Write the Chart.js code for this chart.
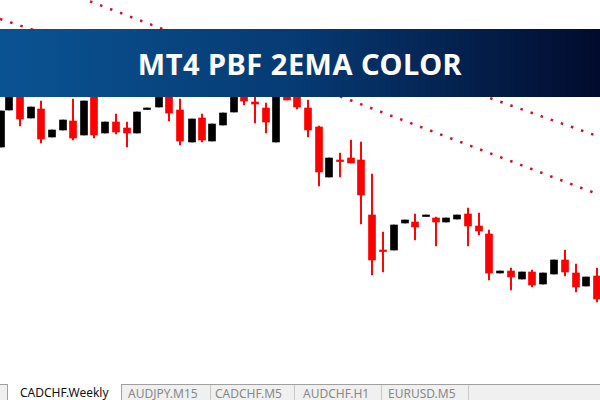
<!DOCTYPE html>
<html>
<head>
<meta charset="utf-8">
<script src="https://cdn.jsdelivr.net/npm/chart.js@4.4.1/dist/chart.umd.min.js"></script>
<style>
  body { margin: 0; width: 600px; height: 400px; overflow: hidden; background: #fff; font-family: "Noto Sans", "Open Sans", sans-serif; }
  #wrap { position: relative; width: 600px; height: 400px; }
  #banner { position: absolute; left: 0; top: 29px; width: 600px; height: 68px;
    background: linear-gradient(90deg, #0a5393 0%, #063a73 50%, #020b2d 100%);
    color: #fff; font-weight: 700; font-size: 29px; letter-spacing: 0.5px;
    display: flex; align-items: center; justify-content: center; }
  #tabs { position: absolute; left: 0; top: 384px; width: 600px; height: 16px; background: #f0f0f0;
    border-top: 1px solid #a0a0a0; font-size: 12px; }
  .tab { position: absolute; top: 0; height: 16px; line-height: 17px; color: #888; padding: 0 12px; border-right: 1px solid #c8c8c8; }
  .tab.on { color: #111; background: #fff; border-left: 1px solid #a0a0a0; border-right: 1px solid #a0a0a0; top: -1px; }
</style>
</head>
<body>
<div id="wrap">
  <canvas id="graphique" width="600" height="400"></canvas>
  <div id="banner">MT4 PBF 2EMA COLOR</div>
  <div id="tabs">
    <div class="tab" style="left:-12px;width:0"></div>
    <div class="tab on" style="left:7px">CADCHF.Weekly</div>
    <div class="tab" style="left:116px">AUDJPY.M15</div>
    <div class="tab" style="left:203px">CADCHF.M5</div>
    <div class="tab" style="left:291px">AUDCHF.H1</div>
    <div class="tab" style="left:376px">EURUSD.M5</div>
  </div>
</div>
<script>
// Bougies (coordonnées, axe y inversé)
const positions = [1, 9, 20, 31, 41, 52, 63, 73, 84, 94, 105, 116, 127, 137, 147, 159, 169, 180, 192, 202, 212, 223, 234, 244, 255, 266, 276, 287, 297, 308,
  319, 329, 340, 351, 361, 372, 383, 394, 405, 415, 426, 436, 446, 457, 468, 479, 489, 500, 511, 522, 532, 543, 554, 565, 576, 586, 597];
const corpsHaut = [111, 90, 90, 107, 109, 130, 120, 121, 101, 90, 122, 122, 128, 112, 108, 90, 90, 110, 119, 118, 124, 113, 90, 90, 102, 108, 90, 90, 90, 108,
  127, 158, 160, 158, 160, 215, 250, 225, 220, 222, 215, 218, 218, 215, 214, 226, 234, 271, 271, 272, 272, 273, 260, 260, 273, 277, 276];
const corpsBas = [147, 110, 119, 118, 139, 137, 130, 138, 135, 135, 133, 132, 133, 133, 109, 107, 113, 141, 142, 140, 141, 125, 112, 101, 104, 122, 142, 100, 107, 130,
  172, 177, 161, 163, 195, 260, 251, 250, 223, 227, 216, 222, 222, 219, 226, 231, 273, 273, 277, 279, 285, 284, 274, 272, 287, 286, 299];
const mecheHaut = [111, 90, 90, 107, 101, 130, 120, 99, 101, 90, 122, 114, 122, 112, 108, 90, 90, 99, 119, 114, 124, 113, 90, 90, 90, 103, 90, 90, 90, 100,
  126, 158, 153, 140, 142, 174, 232, 225, 220, 214, 215, 217, 218, 215, 208, 213, 230, 271, 268, 272, 270, 273, 260, 250, 264, 277, 268];
const mecheBas = [147, 110, 126, 118, 143, 137, 130, 140, 135, 138, 133, 134, 147, 133, 109, 107, 121, 145, 142, 142, 141, 125, 112, 105, 123, 133, 142, 100, 109, 137,
  186, 177, 177, 163, 224, 275, 272, 250, 223, 240, 216, 246, 222, 219, 246, 235, 280, 273, 290, 279, 287, 284, 274, 276, 292, 286, 302];
const baissiere = [0, 0, 1, 0, 1, 0, 0, 1, 0, 1, 0, 1, 1, 0, 0, 0, 1, 1, 0, 1, 0, 0, 0, 1, 1, 1, 0, 1, 1, 1,
  1, 0, 1, 1, 1, 1, 1, 0, 0, 1, 0, 1, 0, 0, 1, 1, 1, 0, 1, 0, 1, 0, 0, 1, 1, 0, 1];

// Lignes pointillées (extrémités)
const ligneA = [{ x: 60, y: -10 }, { x: 600, y: 195 }];
const ligneB = [{ x: 470, y: 91 }, { x: 600, y: 137 }];
const ligneC = [{ x: 0, y: 19 }, { x: 40, y: 32 }];

const couleurs = baissiere.map(b => b ? '#ff0000' : '#000000');
const meches = positions.map((x, i) => ({ x: x, y: [mecheHaut[i], mecheBas[i]] }));
const corps = positions.map((x, i) => ({ x: x, y: [corpsHaut[i], Math.max(corpsBas[i], corpsHaut[i] + 1.5)] }));

const pointille = (data) => ({
    type: 'line', data: data, borderColor: '#d01020', borderWidth: 2.5,
    borderDash: [2.5, 8.2], pointRadius: 0, fill: false
});

new Chart(document.getElementById('graphique').getContext('2d'), {
    type: 'bar',
    data: {
        datasets: [
            pointille(ligneA), pointille(ligneB), pointille(ligneC),
            { data: meches, backgroundColor: couleurs, barThickness: 1.3, grouped: false },
            { data: corps, backgroundColor: couleurs, barThickness: 7, grouped: false }
        ]
    },
    options: {
        responsive: false,
        animation: false,
        layout: { padding: 0 },
        plugins: { legend: { display: false }, tooltip: { enabled: false } },
        scales: {
            x: { type: 'linear', min: 0, max: 600, offset: false, display: false },
            y: { min: 0, max: 400, reverse: true, display: false }
        }
    }
});
</script>
</body>
</html>
